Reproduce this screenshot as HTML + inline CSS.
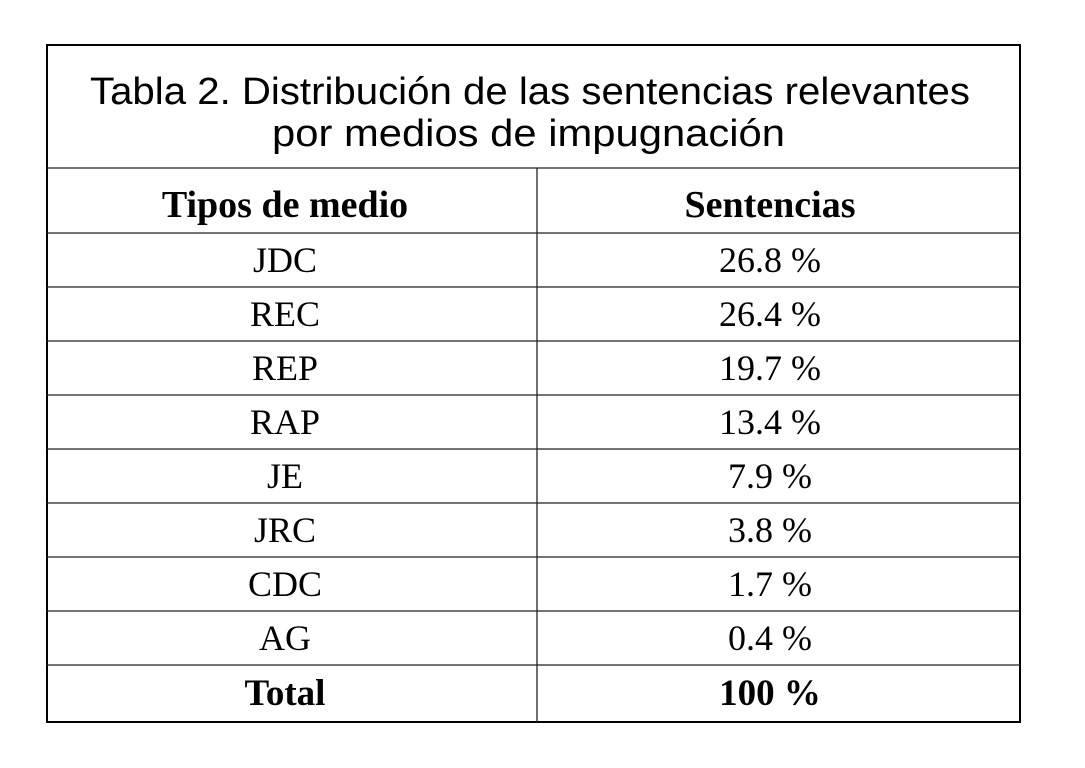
<!DOCTYPE html>
<html><head><meta charset="utf-8"><style>body{margin:0;background:#fff}svg{display:block}</style></head><body>
<svg width="1085" height="768" xmlns="http://www.w3.org/2000/svg">
<rect x="0" y="0" width="1085" height="768" fill="#fff"/>
<rect x="47" y="45" width="973" height="677" fill="none" stroke="#000" stroke-width="2"/>
<g stroke="#222" stroke-width="1.3">
<line x1="47" y1="168" x2="1020" y2="168"/>
<line x1="47" y1="233" x2="1020" y2="233"/>
<line x1="47" y1="287" x2="1020" y2="287"/>
<line x1="47" y1="341" x2="1020" y2="341"/>
<line x1="47" y1="395" x2="1020" y2="395"/>
<line x1="47" y1="449" x2="1020" y2="449"/>
<line x1="47" y1="503" x2="1020" y2="503"/>
<line x1="47" y1="557" x2="1020" y2="557"/>
<line x1="47" y1="611" x2="1020" y2="611"/>
<line x1="47" y1="665" x2="1020" y2="665"/>
<line x1="537" y1="168" x2="537" y2="722"/>
</g>
<g font-family="Liberation Sans, sans-serif" font-size="38" fill="#000">
<text x="90" y="104" textLength="880" lengthAdjust="spacingAndGlyphs">Tabla 2. Distribución de las sentencias relevantes</text>
<text x="272" y="146" textLength="513" lengthAdjust="spacingAndGlyphs">por medios de impugnación</text>
</g>
<g font-family="Liberation Serif, serif" font-size="36" fill="#000" text-anchor="middle">
<text x="285" y="217" font-weight="bold" font-size="38">Tipos de medio</text>
<text x="770" y="217" font-weight="bold" font-size="38">Sentencias</text>
<text x="285" y="272">JDC</text><text x="770" y="272">26.8 %</text>
<text x="285" y="326">REC</text><text x="770" y="326">26.4 %</text>
<text x="285" y="380">REP</text><text x="770" y="380">19.7 %</text>
<text x="285" y="434">RAP</text><text x="770" y="434">13.4 %</text>
<text x="285" y="488">JE</text><text x="770" y="488">7.9 %</text>
<text x="285" y="542">JRC</text><text x="770" y="542">3.8 %</text>
<text x="285" y="596">CDC</text><text x="770" y="596">1.7 %</text>
<text x="285" y="650">AG</text><text x="770" y="650">0.4 %</text>
<text x="285" y="705" font-weight="bold" font-size="37">Total</text><text x="770" y="705" font-weight="bold" font-size="37">100 %</text>
</g>
</svg>
</body></html>
